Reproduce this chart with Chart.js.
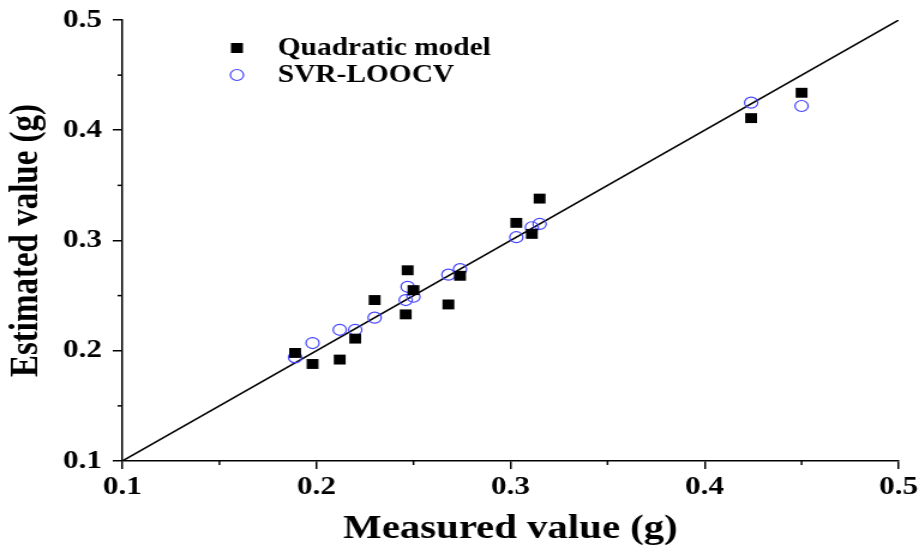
<!DOCTYPE html>
<html>
<head>
<meta charset="utf-8">
<script src="https://cdn.jsdelivr.net/npm/chart.js@4.4.0/dist/chart.umd.min.js"></script>
<style>
  html, body { margin: 0; padding: 0; background: #fff; }
</style>
</head>
<body>
<!-- drawn narrower and stretched wide, like the original figure -->
<canvas id="chart" width="766" height="546" style="display:block;width:919px;height:546px"></canvas>
<script>
// measured weight (g), shared by both models
const measured = [0.189, 0.198, 0.212, 0.220, 0.230, 0.247, 0.246, 0.250, 0.268, 0.274, 0.303, 0.311, 0.315, 0.424, 0.450];
const quadratic = [0.198, 0.188, 0.192, 0.211, 0.246, 0.273, 0.233, 0.255, 0.242, 0.268, 0.316, 0.306, 0.338, 0.411, 0.434];
const svr = [0.194, 0.207, 0.219, 0.219, 0.230, 0.258, 0.246, 0.249, 0.269, 0.274, 0.303, 0.312, 0.315, 0.425, 0.422];
const refLine = [0.1, 0.5];
const axisTicks = [0.1, 0.2, 0.3, 0.4, 0.5];
const minorTicks = [0.15, 0.25, 0.35, 0.45];

const serif = '"Liberation Serif", "Times New Roman", serif';

const toPoints = ys => measured.map((x, i) => ({ x: x, y: ys[i] }));

// little ticks between the labelled ones
const minorTickPlugin = {
  id: 'minorTicks',
  afterDraw(chart) {
    const { ctx, scales: { x, y } } = chart;
    ctx.save();
    ctx.strokeStyle = '#000';
    ctx.lineWidth = 1.5;
    minorTicks.forEach(v => {
      const px = x.getPixelForValue(v);
      ctx.beginPath();
      ctx.moveTo(px, x.top);
      ctx.lineTo(px, x.top + 4);
      ctx.stroke();
      const py = y.getPixelForValue(v);
      ctx.beginPath();
      ctx.moveTo(y.right, py);
      ctx.lineTo(y.right - 4, py);
      ctx.stroke();
    });
    ctx.restore();
  }
};

// legend sits inside the plot, top left
const insideLegend = {
  id: 'insideLegend',
  afterDraw(chart) {
    const ctx = chart.ctx;
    let row = 0;
    ctx.save();
    ctx.font = 'bold 24.5px ' + serif;
    ctx.textBaseline = 'middle';
    chart.data.datasets.forEach(ds => {
      if (!ds.label) return;
      const mx = 197.5, my = 48 + row * 27;
      if (ds.pointStyle === 'rect') {
        ctx.fillStyle = ds.backgroundColor;
        ctx.fillRect(mx - 5, my - 5, 10, 10);
      } else {
        ctx.strokeStyle = ds.borderColor;
        ctx.lineWidth = ds.borderWidth;
        ctx.beginPath();
        ctx.arc(mx, my, ds.pointRadius, 0, Math.PI * 2);
        ctx.stroke();
      }
      ctx.fillStyle = '#000';
      ctx.fillText(ds.label, 231.5, my + 1);
      row++;
    });
    ctx.restore();
  }
};

new Chart(document.getElementById('chart'), {
  type: 'scatter',
  data: {
    datasets: [
      {
        label: 'Quadratic model',
        data: toPoints(quadratic),
        pointStyle: 'rect',
        pointRadius: 7,
        backgroundColor: '#000',
        borderWidth: 0,
      },
      {
        label: 'SVR-LOOCV',
        data: toPoints(svr),
        pointStyle: 'circle',
        pointRadius: 5.5,
        backgroundColor: 'rgba(0,0,0,0)',
        borderColor: '#4444ff',
        borderWidth: 1.2,
      },
      {
        type: 'line',
        data: refLine.map(v => ({ x: v, y: v })),
        borderColor: '#000',
        borderWidth: 1.5,
        pointRadius: 0,
      },
    ],
  },
  options: {
    responsive: false,
    animation: false,
    layout: { padding: { top: 20, right: 17, left: 0, bottom: 0 } },
    plugins: {
      legend: { display: false },
      tooltip: { enabled: false },
    },
    scales: {
      x: {
        type: 'linear',
        min: 0.1,
        max: 0.5,
        afterBuildTicks: axis => { axis.ticks = axisTicks.map(v => ({ value: v })); },
        afterFit: scale => {
          scale.height = 85;
          scale.paddingLeft = 0;
          scale.paddingRight = 0;
        },
        border: { color: '#000', width: 1.5 },
        grid: { drawOnChartArea: false, color: '#000', lineWidth: 1.5, tickLength: 8 },
        ticks: {
          color: '#000',
          padding: 3,
          maxRotation: 0,
          font: { family: serif, weight: 'bold', size: 26 },
          callback: v => v.toFixed(1),
        },
        title: {
          display: true,
          text: 'Measured value (g)',
          color: '#000',
          padding: 0,
          font: { family: serif, weight: 'bold', size: 34, lineHeight: 1 },
        },
      },
      y: {
        type: 'linear',
        min: 0.1,
        max: 0.5,
        afterBuildTicks: axis => { axis.ticks = axisTicks.map(v => ({ value: v })); },
        afterFit: scale => {
          scale.width = 102;
          scale.paddingTop = 0;
          scale.paddingBottom = 0;
        },
        border: { color: '#000', width: 1.5 },
        grid: { drawOnChartArea: false, color: '#000', lineWidth: 1.5, tickLength: 8 },
        ticks: {
          color: '#000',
          padding: 9,
          font: { family: serif, weight: 'bold', size: 26 },
          callback: v => v.toFixed(1),
        },
        title: {
          display: true,
          text: 'Estimated value (g)',
          color: '#000',
          padding: { top: 6 },
          font: { family: serif, weight: 'bold', size: 33, lineHeight: 1 },
        },
      },
    },
  },
  plugins: [minorTickPlugin, insideLegend],
});
</script>
</body>
</html>
